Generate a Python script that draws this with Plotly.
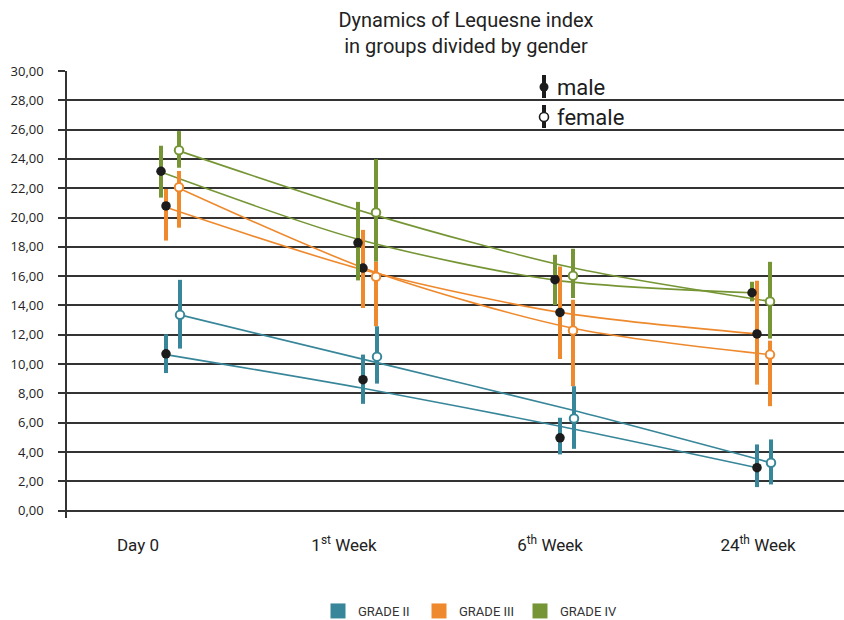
import plotly.graph_objects as go

# ---- data -------------------------------------------------------------
periods = ["Day 0", "1<sup>st</sup> Week", "6<sup>th</sup> Week", "24<sup>th</sup> Week"]
grade_names = ["GRADE II", "GRADE III", "GRADE IV"]
y_ticks = [0, 2, 4, 6, 8, 10, 12, 14, 16, 18, 20, 22, 24, 26, 28, 30]

# Lequesne index: mean, top and bottom of the spread bar
g2_male_mean = [10.70, 8.94, 4.97, 2.93]
g2_male_hi = [12.04, 10.65, 6.34, 4.52]
g2_male_lo = [9.39, 7.29, 3.84, 1.61]
g2_female_mean = [13.36, 10.51, 6.29, 3.27]
g2_female_hi = [15.75, 12.58, 8.49, 4.86]
g2_female_lo = [11.06, 8.67, 4.22, 1.79]

g3_male_mean = [20.79, 16.55, 13.53, 12.06]
g3_male_hi = [21.95, 19.16, 16.66, 15.69]
g3_male_lo = [18.43, 13.83, 10.35, 8.60]
g3_female_mean = [22.07, 15.96, 12.30, 10.65]
g3_female_hi = [23.18, 17.00, 14.39, 11.60]
g3_female_lo = [19.31, 12.58, 8.49, 7.13]

g4_male_mean = [23.16, 18.28, 15.76, 14.87]
g4_male_hi = [24.90, 21.07, 17.46, 15.62]
g4_male_lo = [21.36, 15.71, 14.03, 14.28]
g4_female_mean = [24.59, 20.34, 16.03, 14.28]
g4_female_hi = [25.90, 23.98, 17.87, 16.98]
g4_female_lo = [23.40, 17.00, 14.51, 11.74]

# trend curves per group, evaluated at each time point
g2_male_trend = [10.65, 8.35, 5.76, 2.93]
g2_female_trend = [13.36, 10.10, 6.83, 3.27]
g3_male_trend = [20.70, 16.44, 13.53, 12.06]
g3_female_trend = [22.00, 16.25, 12.45, 10.65]
g4_male_trend = [23.10, 18.52, 15.73, 14.87]
g4_female_trend = [24.55, 20.15, 16.57, 14.28]

# ---- styling ----------------------------------------------------------
BLUE, ORANGE, GREEN = "#388699", "#EE892D", "#769636"
INK = "#1c1c1c"
NARROW = "Roboto, Liberation Sans, sans-serif"
STEP = 197.0  # px between time points

# horizontal dodge of each group inside a time point (px)
dodge = {
    ("GRADE II", "male"): -4, ("GRADE II", "female"): 10,
    ("GRADE III", "male"): -4, ("GRADE III", "female"): 9,
    ("GRADE IV", "male"): -9, ("GRADE IV", "female"): 9,
}

groups = [
    # drawn in this order: orange under blue and green
    ("GRADE III", ORANGE,
     (g3_male_mean, g3_male_hi, g3_male_lo, g3_male_trend),
     (g3_female_mean, g3_female_hi, g3_female_lo, g3_female_trend)),
    ("GRADE II", BLUE,
     (g2_male_mean, g2_male_hi, g2_male_lo, g2_male_trend),
     (g2_female_mean, g2_female_hi, g2_female_lo, g2_female_trend)),
    ("GRADE IV", GREEN,
     (g4_male_mean, g4_male_hi, g4_male_lo, g4_male_trend),
     (g4_female_mean, g4_female_hi, g4_female_lo, g4_female_trend)),
]

fig = go.Figure()


def xs(grade, sex):
    return [i + dodge[(grade, sex)] / STEP for i in range(len(periods))]


# trend curves first so the bars sit above them
for grade, color, male, female in groups:
    for sex, series in (("male", male), ("female", female)):
        fig.add_trace(go.Scatter(
            x=xs(grade, sex), y=series[3], mode="lines",
            line=dict(color=color, width=1.6, shape="spline", smoothing=0.8),
            hoverinfo="skip", showlegend=False,
        ))

for grade, color, male, female in groups:
    for sex, series in (("male", male), ("female", female)):
        mean, hi, lo, _ = series
        marker = (dict(color=INK, size=9.5, line=dict(width=0))
                  if sex == "male" else
                  dict(color="white", size=8.5, line=dict(color=color, width=2)))
        fig.add_trace(go.Scatter(
            x=xs(grade, sex), y=mean, mode="markers",
            marker=marker, name=f"{grade} {sex}",
            error_y=dict(type="data", symmetric=False,
                         array=[h - m for h, m in zip(hi, mean)],
                         arrayminus=[m - l for m, l in zip(mean, lo)],
                         color=color, thickness=4, width=0),
            showlegend=False,
        ))

# colour key for the grades
for grade, color in zip(grade_names, [BLUE, ORANGE, GREEN]):
    fig.add_trace(go.Scatter(
        x=[None], y=[None], mode="markers", name=grade,
        marker=dict(symbol="square", size=15, color=color),
        showlegend=True,
    ))

# ---- layout -----------------------------------------------------------
W, H = 844, 620
L, R, T, B = 67, 0, 71, 102
pw, ph = W - L - R, H - T - B


def px_x(p):
    return (p - L) / pw


def px_y(p):
    return (H - B - p) / ph


# male / female key
key = [("male", 87, INK), ("female", 117, "white")]
shapes = []
annotations = []
for label, cy, fill in key:
    shapes.append(dict(type="line", xref="paper", yref="paper",
                       x0=px_x(544), x1=px_x(544), y0=px_y(cy - 12), y1=px_y(cy + 11),
                       line=dict(color=INK, width=4)))
    shapes.append(dict(type="circle", xref="paper", yref="paper",
                       x0=px_x(539.5), x1=px_x(548.5), y0=px_y(cy + 4.5), y1=px_y(cy - 4.5),
                       fillcolor=fill, line=dict(color=INK, width=1.6 if fill == "white" else 0)))
    annotations.append(dict(text=label, xref="paper", yref="paper",
                            x=px_x(555), y=px_y(cy), xanchor="left", yanchor="middle",
                            showarrow=False, font=dict(family=NARROW, size=22, color=INK)))

fig.update_layout(
    width=W, height=H,
    margin=dict(l=L, r=R, t=T, b=B, pad=0, autoexpand=False),
    paper_bgcolor="white", plot_bgcolor="white",
    separators=", ",
    title=dict(text="Dynamics of Lequesne index<br>in groups divided by gender",
               x=466 / W, xanchor="center", xref="container",
               y=1 - 27 / H, yanchor="middle", yref="container",
               font=dict(family=NARROW, size=20, color="#222")),
    xaxis=dict(range=[(L - 170) / STEP, (W - R - 170) / STEP],
               tickvals=[(138 - 170) / STEP, (344 - 170) / STEP,
                         (550 - 170) / STEP, (758 - 170) / STEP],
               ticktext=periods, ticks="", showgrid=False, zeroline=False,
               showline=False, ticklabelstandoff=15,
               tickfont=dict(family=NARROW, size=17, color="#222")),
    yaxis=dict(range=[-0.5, 30], tickvals=y_ticks, tickformat=".2f",
               showgrid=True, gridcolor="#333", gridwidth=1.5,
               showline=True, linecolor="#333", linewidth=1.5,
               ticks="outside", ticklen=7, tickcolor="#333", tickwidth=1.5,
               zeroline=False, ticklabelstandoff=12,
               tickfont=dict(family="Open Sans, sans-serif", size=13, color="#222")),
    legend=dict(orientation="h", x=px_x(318), xanchor="left",
                y=px_y(596), yanchor="top", entrywidth=56,
                font=dict(family=NARROW, size=13, color="#333"),
                itemclick=False, itemdoubleclick=False),
    shapes=shapes,
    annotations=annotations,
    showlegend=True,
)

fig.write_html("out.html")
